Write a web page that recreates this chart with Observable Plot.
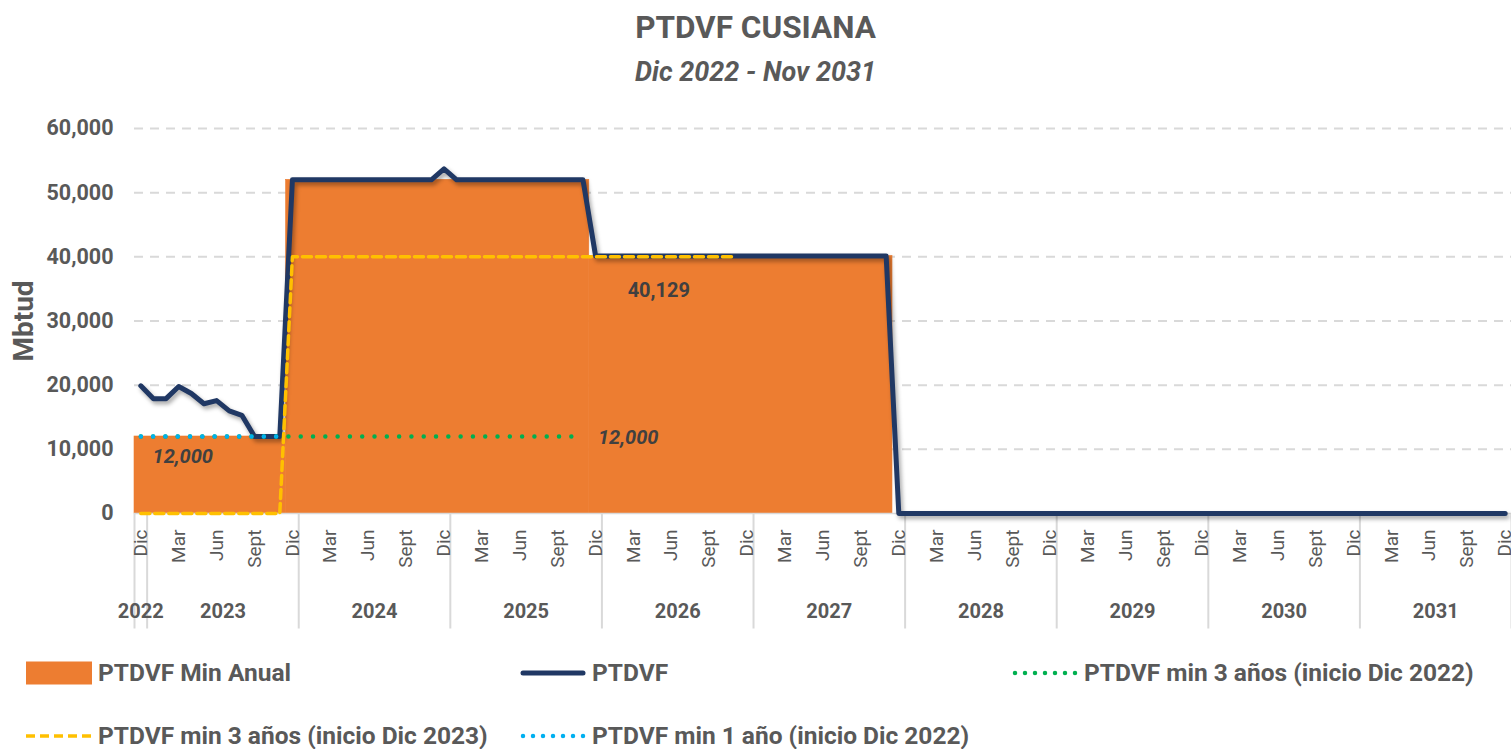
<!DOCTYPE html>
<html>
<head>
<meta charset="utf-8">
<script src="https://cdn.jsdelivr.net/npm/d3@7"></script>
<script src="https://cdn.jsdelivr.net/npm/@observablehq/plot@0.6"></script>
<style>
  html, body { margin: 0; padding: 0; background: #ffffff; }
  #wrap { position: relative; width: 1511px; height: 749px; overflow: hidden;
          font-family: Roboto, "Liberation Sans", sans-serif; color: #595959; }
  #title { position: absolute; top: 9px; left: 0; width: 1511px; text-align: center;
           font-weight: bold; font-size: 31.5px; line-height: 38px; }
  #subtitle { position: absolute; top: 55px; left: 0; width: 1511px; text-align: center;
              font-weight: bold; font-style: italic; font-size: 27px; line-height: 34px; }
  #chart { position: absolute; top: 95px; left: 0; }
  .leg { position: absolute; display: flex; align-items: center; font-weight: bold; font-size: 24.5px;
         line-height: 26px; height: 26px; white-space: nowrap; color: #595959; }
  .leg svg { margin-right: 6px; flex: none; }
</style>
</head>
<body>
<div id="wrap">
  <div id="title"></div>
  <div id="subtitle"></div>
  <div id="chart"></div>
  <div id="legend"></div>
</div>
<script>
// ---------- DATA ----------
const titleText = "PTDVF CUSIANA";
const subtitleText = "Dic 2022 - Nov 2031";
const yAxisLabel = "Mbtud";

const monthNames = ["Ene", "Feb", "Mar", "Abr", "May", "Jun", "Jul", "Ago", "Sept", "Oct", "Nov", "Dic"];
const firstMonth = { month: "Dic", year: 2022 };
const lastMonth = { month: "Dic", year: 2031 };
const tickMonths = ["Dic", "Mar", "Jun", "Sept"];
const yTicks = [0, 10000, 20000, 30000, 40000, 50000, 60000];

// PTDVF (Mbtud), monthly from Dic 2022 to Dic 2031
const ptdvf = [
  19900, 17900, 17900, 19800, 18700, 17100, 17600, 16000, 15300, 12000, 12000, 12000,
  52000, 52000, 52000, 52000, 52000, 52000, 52000, 52000, 52000, 52000, 52000, 52000,
  53700, 52000, 52000, 52000, 52000, 52000, 52000, 52000, 52000, 52000, 52000, 52000,
  40129, 40129, 40129, 40129, 40129, 40129, 40129, 40129, 40129, 40129, 40129, 40129,
  40129, 40129, 40129, 40129, 40129, 40129, 40129, 40129, 40129, 40129, 40129, 40129,
  0, 0, 0, 0, 0, 0, 0, 0, 0, 0, 0, 0,
  0, 0, 0, 0, 0, 0, 0, 0, 0, 0, 0, 0,
  0, 0, 0, 0, 0, 0, 0, 0, 0, 0, 0, 0,
  0, 0, 0, 0, 0, 0, 0, 0, 0, 0, 0, 0,
  0
];

// PTDVF Min Anual (annual minimum periods)
const minAnual = [
  { from: "Dic 2022", to: "Nov 2023", value: 12000 },
  { from: "Dic 2023", to: "Nov 2025", value: 52000 },
  { from: "Dic 2025", to: "Nov 2027", value: 40129 }
];

// PTDVF min 3 años (inicio Dic 2022), monthly from Dic 2022
const min3y2022 = [
  12000, 12000, 12000, 12000, 12000, 12000, 12000, 12000, 12000, 12000, 12000, 12000,
  12000, 12000, 12000, 12000, 12000, 12000, 12000, 12000, 12000, 12000, 12000, 12000,
  12000, 12000, 12000, 12000, 12000, 12000, 12000, 12000, 12000, 12000, 12000, 12000
];
// PTDVF min 3 años (inicio Dic 2023), monthly from Dic 2022
const min3y2023 = [
  0, 0, 0, 0, 0, 0, 0, 0, 0, 0, 0, 0,
  40000, 40000, 40000, 40000, 40000, 40000, 40000, 40000, 40000, 40000, 40000, 40000,
  40000, 40000, 40000, 40000, 40000, 40000, 40000, 40000, 40000, 40000, 40000, 40000,
  40000, 40000, 40000, 40000, 40000, 40000, 40000, 40000, 40000, 40000, 40000, 40000
];
// PTDVF min 1 año (inicio Dic 2022), monthly from Dic 2022
const min1y2022 = [
  12000, 12000, 12000, 12000, 12000, 12000, 12000, 12000, 12000, 12000, 12000, 12000
];

const valueLabels = [
  { month: "Mar 2023", value: 12000, text: "12,000" },
  { month: "Nov 2025", value: 12000, text: "12,000" },
  { month: "May 2026", value: 40129, text: "40,129" }
];

const seriesNames = [
  "PTDVF Min Anual",
  "PTDVF",
  "PTDVF min 3 años (inicio Dic 2022)",
  "PTDVF min 3 años (inicio Dic 2023)",
  "PTDVF min 1 año (inicio Dic 2022)"
];

// ---------- STYLE ----------
const FONT = 'Roboto, "Liberation Sans", sans-serif';
const ORANGE = "#ED7D31", NAVY = "#203864", GREEN = "#00B050", YELLOW = "#FFC000", BLUE = "#00B0F0";
const GRID = "#D9D9D9", TEXT = "#595959", LABEL = "#404040";

// ---------- BUILD CATEGORIES ----------
const months = [];
{
  let m = monthNames.indexOf(firstMonth.month), y = firstMonth.year;
  while (true) {
    months.push({ i: months.length, label: monthNames[m], year: y, key: monthNames[m] + " " + y });
    if (monthNames[m] === lastMonth.month && y === lastMonth.year) break;
    m++; if (m === 12) { m = 0; y++; }
  }
}
const idx = key => months.findIndex(d => d.key === key);
const series = arr => arr.map((v, i) => ({ i, v }));

const tickIdx = months.filter(d => tickMonths.includes(d.label) && (d.i % 3 === 0)).map(d => d.i);
const yearGroups = d3.groups(months, d => d.year).map(([year, ms]) => ({
  year: String(year), start: ms[0].i - 0.5, end: ms[ms.length - 1].i + 0.5
}));
const boundaries = [yearGroups[0].start, ...yearGroups.map(g => g.end)];

document.getElementById("title").textContent = titleText;
document.getElementById("subtitle").textContent = subtitleText;

const chart = Plot.plot({
  width: 1511,
  height: 545,
  marginLeft: 134,
  marginRight: 0,
  marginTop: 33,
  marginBottom: 127,
  style: { fontFamily: FONT, color: TEXT, background: "transparent", overflow: "visible" },
  x: { type: "linear", domain: [-0.5, months.length - 0.5], axis: null },
  y: { domain: [0, 60000], axis: null },
  marks: [
    Plot.ruleY(yTicks.filter(d => d > 0), { stroke: GRID, strokeWidth: 2, strokeDasharray: "9,7" }),
    Plot.rectY(minAnual, { x1: d => idx(d.from) - 0.5, x2: d => idx(d.to) + 0.5, y1: 0, y2: "value", fill: ORANGE, stroke: ORANGE, strokeWidth: 0.6 }),
    Plot.ruleY([0], { stroke: GRID, strokeWidth: 1.5 }),
    Plot.ruleX(boundaries, { y1: 0, y2: -18000, stroke: GRID, strokeWidth: 2 }),
    Plot.axisY(yTicks, { tickFormat: d3.format(","), tickSize: 0, tickPadding: 21, fontSize: 21.5, fontWeight: "bold", label: null }),
    Plot.axisX(tickIdx, { tickFormat: i => months[i].label, tickRotate: -90, tickSize: 0, tickPadding: 16, fontSize: 19, label: null }),
    Plot.text(yearGroups, { x: d => (d.start + d.end) / 2, text: "year", frameAnchor: "bottom", dy: 104, fontSize: 20, fontWeight: "bold" }),
    Plot.text([yAxisLabel], { frameAnchor: "left", y: [30000], text: d => d, rotate: -90, textAnchor: "middle", dx: -110, fontSize: 28, fontWeight: "bold" }),
    Plot.line(series(ptdvf), { x: "i", y: "v", stroke: NAVY, strokeWidth: 5, strokeLinejoin: "round" }),
    Plot.line(series(min3y2022), { x: "i", y: "v", stroke: GREEN, strokeWidth: 4.5, strokeDasharray: "0,12.3", strokeLinecap: "round" }),
    Plot.line(series(min3y2023), { x: "i", y: "v", stroke: YELLOW, strokeWidth: 3.5, strokeDasharray: "9,5" }),
    Plot.line(series(min1y2022), { x: "i", y: "v", stroke: BLUE, strokeWidth: 4.5, strokeDasharray: "0,12.3", strokeLinecap: "round" }),
    Plot.text(valueLabels.slice(0, 1), { x: d => idx(d.month), y: "value", text: "text", dx: 4, dy: 20, fontSize: 20, fontWeight: "bold", fontStyle: "italic", fill: LABEL }),
    Plot.text(valueLabels.slice(1, 2), { x: d => idx(d.month), y: "value", text: "text", dx: 15, dy: 1, textAnchor: "start", fontSize: 20, fontWeight: "bold", fontStyle: "italic", fill: LABEL }),
    Plot.text(valueLabels.slice(2, 3), { x: d => idx(d.month), y: "value", text: "text", dx: 0, dy: 35, fontSize: 20, fontWeight: "bold", fill: LABEL })
  ]
});
// soft shadow on the PTDVF line
d3.select(chart).selectAll("g").filter(function () { return this.getAttribute("stroke") === NAVY; })
  .style("filter", "drop-shadow(2px 3px 2px rgba(0,0,0,0.35))");
document.getElementById("chart").appendChild(chart);

// ---------- LEGEND ----------
const legendItems = [
  { name: seriesNames[0], kind: "rect", color: ORANGE, left: 26, top: 660 },
  { name: seriesNames[1], kind: "solid", color: NAVY, left: 520, top: 660 },
  { name: seriesNames[2], kind: "dots", color: GREEN, left: 1012, top: 660 },
  { name: seriesNames[3], kind: "dash", color: YELLOW, left: 26, top: 723 },
  { name: seriesNames[4], kind: "dots", color: BLUE, left: 520, top: 723 }
];
const legend = d3.select("#legend");
for (const it of legendItems) {
  const item = legend.append("div").attr("class", "leg").style("left", it.left + "px").style("top", it.top + "px");
  const s = item.append("svg").attr("width", 66).attr("height", 24);
  if (it.kind === "rect") s.append("rect").attr("x", 0).attr("y", 0.5).attr("width", 66).attr("height", 23).attr("fill", it.color);
  else {
    const l = s.append("line").attr("x1", it.kind === "dots" ? 3 : 0).attr("x2", 66)
      .attr("y1", 12).attr("y2", 12).attr("stroke", it.color);
    if (it.kind === "solid") l.attr("stroke-width", 5).attr("stroke-linecap", "round").attr("x1", 3).attr("x2", 63);
    if (it.kind === "dots") l.attr("stroke-width", 4.5).attr("stroke-dasharray", "0,10").attr("stroke-linecap", "round");
    if (it.kind === "dash") l.attr("stroke-width", 3.5).attr("stroke-dasharray", "9,5");
  }
  item.append("span").text(it.name);
}
</script>
</body>
</html>
